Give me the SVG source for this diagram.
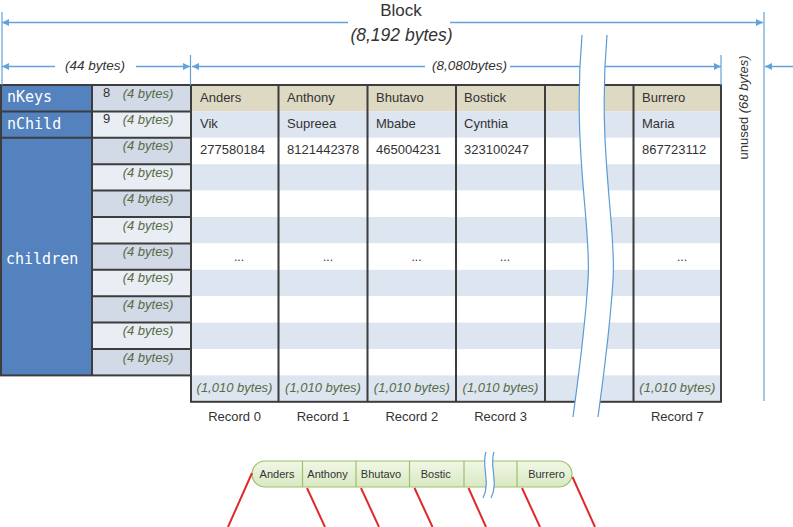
<svg xmlns="http://www.w3.org/2000/svg" width="793" height="527" viewBox="0 0 793 527">
<style>
.dim{stroke:#62a2d9;stroke-width:1.5;fill:none}
.ext{stroke:#62a2d9;stroke-width:1.2;fill:none}
.lbl{font-family:"Liberation Sans",Arial,sans-serif;fill:#333}
.it{font-style:italic}
.g{font-family:"Liberation Sans",Arial,sans-serif;font-style:italic;font-size:13px;fill:#586b45}
.mono{font-family:"DejaVu Sans Mono",monospace;font-size:15px;fill:#fff}
.bd{stroke:#3d3d3d;stroke-width:2;fill:none}
.t{font-family:"Liberation Sans",Arial,sans-serif;font-size:13px;fill:#333}
.red{stroke:#e02a2a;stroke-width:2}
.pill{font-family:"Liberation Sans",Arial,sans-serif;font-size:11px;fill:#333;text-anchor:middle}
</style>
<defs>
<marker id="ah" viewBox="0 0 10 10" refX="10" refY="5" markerWidth="8" markerHeight="7" markerUnits="userSpaceOnUse" orient="auto-start-reverse">
<path d="M0,0 L10,5 L0,10 z" fill="#62a2d9"/>
</marker>
<linearGradient id="pg" x1="0" y1="0" x2="0" y2="1">
<stop offset="0" stop-color="#f1f7e6"/>
<stop offset="1" stop-color="#d9e9c2"/>
</linearGradient>
</defs>

<g id="table">
<rect x="191" y="85" width="530" height="26.4" fill="#ddd9c3"/>
<rect x="191" y="111.4" width="530" height="26.4" fill="#dde5f0"/>
<rect x="191" y="137.8" width="530" height="26.4" fill="#fff"/>
<rect x="191" y="164.2" width="530" height="26.4" fill="#dde5f0"/>
<rect x="191" y="190.6" width="530" height="26.4" fill="#fff"/>
<rect x="191" y="217" width="530" height="26.4" fill="#dde5f0"/>
<rect x="191" y="243.4" width="530" height="26.4" fill="#fff"/>
<rect x="191" y="269.8" width="530" height="26.4" fill="#dde5f0"/>
<rect x="191" y="296.2" width="530" height="26.4" fill="#fff"/>
<rect x="191" y="322.6" width="530" height="26.4" fill="#dde5f0"/>
<rect x="191" y="349" width="530" height="26.4" fill="#fff"/>
<rect x="191" y="375.4" width="530" height="26.4" fill="#dde5f0"/>
<path class="bd" d="M278.5,85V401.8 M367.5,85V401.8 M456,85V401.8 M545,85V401.8 M633.5,85V401.8"/>
<rect class="bd" x="191" y="85" width="530" height="316.8"/>
</g>

<g id="table-text">
<text class="t" x="200" y="101.5">Anders</text>
<text class="t" x="287" y="101.5">Anthony</text>
<text class="t" x="376" y="101.5">Bhutavo</text>
<text class="t" x="464" y="101.5">Bostick</text>
<text class="t" x="642" y="101.5">Burrero</text>
<text class="t" x="200" y="128">Vik</text>
<text class="t" x="287" y="128">Supreea</text>
<text class="t" x="376" y="128">Mbabe</text>
<text class="t" x="464" y="128">Cynthia</text>
<text class="t" x="642" y="128">Maria</text>
<text class="t" x="200" y="154">277580184</text>
<text class="t" x="287" y="154">8121442378</text>
<text class="t" x="376" y="154">465004231</text>
<text class="t" x="464" y="154">323100247</text>
<text class="t" x="642" y="154">867723112</text>
<g font-size="12" text-anchor="middle">
<text class="t" x="239" y="260.5" style="font-size:12px">...</text>
<text class="t" x="328" y="260.5" style="font-size:12px">...</text>
<text class="t" x="416.5" y="260.5" style="font-size:12px">...</text>
<text class="t" x="505" y="260.5" style="font-size:12px">...</text>
<text class="t" x="682" y="260.5" style="font-size:12px">...</text>
</g>
<g text-anchor="middle">
<text class="g" x="234.5" y="392">(1,010 bytes)</text>
<text class="g" x="323" y="392">(1,010 bytes)</text>
<text class="g" x="411.8" y="392">(1,010 bytes)</text>
<text class="g" x="500.5" y="392">(1,010 bytes)</text>
<text class="g" x="677.3" y="392">(1,010 bytes)</text>
<text class="t" x="234.5" y="420.5">Record 0</text>
<text class="t" x="323" y="420.5">Record 1</text>
<text class="t" x="411.8" y="420.5">Record 2</text>
<text class="t" x="500.5" y="420.5">Record 3</text>
<text class="t" x="677.3" y="420.5">Record 7</text>
</g>
</g>

<g id="header-fields">
<rect x="92" y="85" width="99" height="26.4" fill="#d2d9e7"/>
<rect x="92" y="111.4" width="99" height="26.4" fill="#e9edf4"/>
<rect x="92" y="137.8" width="99" height="26.4" fill="#d2d9e7"/>
<rect x="92" y="164.2" width="99" height="26.4" fill="#e9edf4"/>
<rect x="92" y="190.6" width="99" height="26.4" fill="#d2d9e7"/>
<rect x="92" y="217" width="99" height="26.4" fill="#e9edf4"/>
<rect x="92" y="243.4" width="99" height="26.4" fill="#d2d9e7"/>
<rect x="92" y="269.8" width="99" height="26.4" fill="#e9edf4"/>
<rect x="92" y="296.2" width="99" height="26.4" fill="#d2d9e7"/>
<rect x="92" y="322.6" width="99" height="26.4" fill="#e9edf4"/>
<rect x="92" y="349" width="99" height="26.4" fill="#d2d9e7"/>
<rect x="1" y="85" width="91" height="290.4" fill="#5382be"/>
<path class="bd" d="M1,111.4H191 M1,137.8H191 M92,164.2H191 M92,190.6H191 M92,217H191 M92,243.4H191 M92,269.8H191 M92,296.2H191 M92,322.6H191 M92,349H191 M92,85V375.4"/>
<rect class="bd" x="1" y="85" width="190" height="290.4"/>
<text class="mono" x="7" y="102">nKeys</text>
<text class="mono" x="7" y="128.5">nChild</text>
<text class="mono" x="6" y="264">children</text>
<text class="t" x="103" y="97">8</text>
<text class="t" x="103" y="123.4">9</text>
<g text-anchor="middle">
<text class="g" x="148" y="97.5">(4 bytes)</text>
<text class="g" x="148" y="123.9">(4 bytes)</text>
<text class="g" x="148" y="150.3">(4 bytes)</text>
<text class="g" x="148" y="176.7">(4 bytes)</text>
<text class="g" x="148" y="203.1">(4 bytes)</text>
<text class="g" x="148" y="229.5">(4 bytes)</text>
<text class="g" x="148" y="255.9">(4 bytes)</text>
<text class="g" x="148" y="282.3">(4 bytes)</text>
<text class="g" x="148" y="308.7">(4 bytes)</text>
<text class="g" x="148" y="335.1">(4 bytes)</text>
<text class="g" x="148" y="361.5">(4 bytes)</text>
</g>
</g>

<g id="connectors">
<path class="ext" d="M2,12V85 M190.5,55V85 M721,55V85 M764,12V401"/>
<path class="dim" d="M348,22.5H2" marker-end="url(#ah)"/>
<path class="dim" d="M450,22.5H763" marker-end="url(#ah)"/>
<path class="dim" d="M55,66.5H2" marker-end="url(#ah)"/>
<path class="dim" d="M136,66.5H190" marker-end="url(#ah)"/>
<path class="dim" d="M425,66.5H192" marker-end="url(#ah)"/>
<path class="dim" d="M510,66.5H721" marker-end="url(#ah)"/>
<path class="dim" d="M793,66.5H765" marker-end="url(#ah)"/>
</g>

<g id="dim-labels">
<text class="lbl" x="401" y="16" font-size="17" text-anchor="middle">Block</text>
<text class="lbl it" x="401.5" y="41" font-size="17.5" text-anchor="middle">(8,192 bytes)</text>
<text class="lbl it" x="95" y="69.5" font-size="13.5" text-anchor="middle">(44 bytes)</text>
<text class="lbl it" x="469.5" y="69.5" font-size="13.5" text-anchor="middle">(8,080bytes)</text>
<text class="lbl" font-size="13" text-anchor="middle" transform="translate(748,107.5) rotate(-90)">unused <tspan font-style="italic">(68 bytes)</tspan></text>
</g>

<g id="break">
<path d="M582,35 C572,150 592,230 588,280 C585,330 578,380 573,417 L598,417 C603,380 610,330 613,280 C617,230 597,150 607,35 Z" fill="#fff"/>
<path d="M582,35 C572,150 592,230 588,280 C585,330 578,380 573,417" stroke="#5b9bd5" stroke-width="1.2" fill="none"/>
<path d="M607,35 C597,150 617,230 613,280 C610,330 603,380 598,417" stroke="#5b9bd5" stroke-width="1.2" fill="none"/>
</g>

<g id="key-array">
<rect x="252" y="461" width="320" height="26" rx="13" fill="url(#pg)" stroke="#9dbf6e" stroke-width="1.2"/>
<path d="M302.5,461V487 M356,461V487 M409.5,461V487 M464,461V487 M517,461V487" stroke="#9dbf6e" stroke-width="1.2"/>
<path d="M486,452 C481,466 491,482 483,498 L491,498 C499,482 489,466 494,452 Z" fill="#fff"/>
<path d="M486,452 C481,466 491,482 483,498 M494,452 C489,466 499,482 491,498" stroke="#5b9bd5" stroke-width="1.2" fill="none"/>
<text class="pill" x="277" y="478">Anders</text>
<text class="pill" x="327.5" y="478">Anthony</text>
<text class="pill" x="381" y="478">Bhutavo</text>
<text class="pill" x="435.7" y="478">Bostic</text>
<text class="pill" x="546.5" y="478">Burrero</text>
</g>

<g id="pointers">
<path class="red" d="M252,473 L228,527 M307,488 L325,527 M361,488 L379,527 M414.5,488 L432.5,527 M468.5,488 L486,527 M522,488 L540,527 M572.5,477 L595,527"/>
</g>
</svg>
